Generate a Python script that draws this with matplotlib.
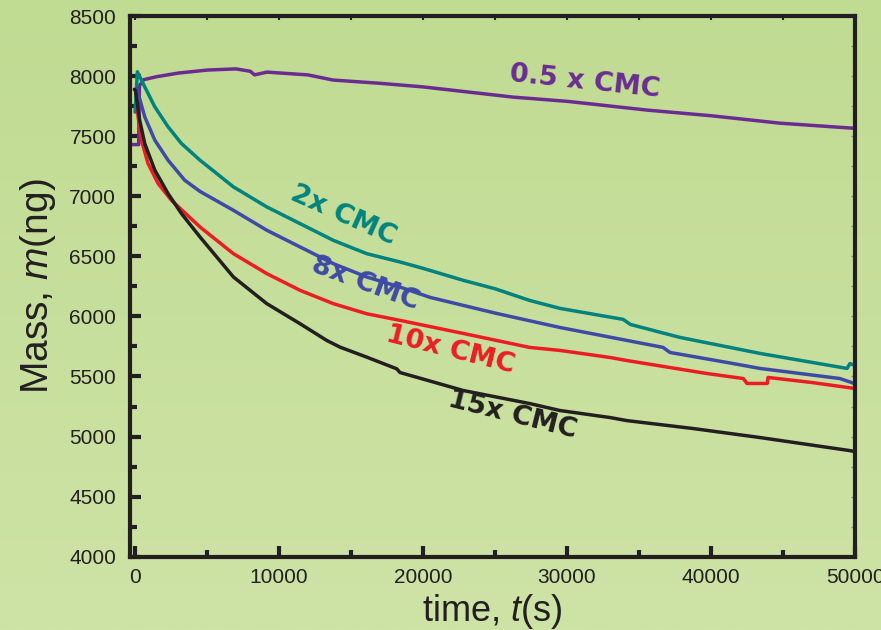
import numpy as np
import matplotlib
matplotlib.use("Agg")
import matplotlib.pyplot as plt
from matplotlib.ticker import MultipleLocator

# ---- data (time in s, mass in ng) ----
t_05x = [-350, 250, 300, 600, 1500, 3000, 5000, 7000, 8000, 8300, 9150, 12000,
         13750, 17000, 20000, 26250, 30000, 35550, 40000, 44800, 50000]
m_05x = [7430, 7430, 7920, 7970, 7995, 8025, 8050, 8060, 8040, 8010, 8033, 8010,
         7967, 7940, 7910, 7825, 7790, 7717, 7670, 7608, 7565]

t_2x = [0, 160, 670, 1370, 2290, 3220, 4510, 6830, 9150, 11460, 13770, 16090,
        18400, 20000, 22800, 25000, 27400, 29500, 33900, 34400, 37850, 43400,
        49450, 49650, 50000]
m_2x = [7700, 8036, 7911, 7744, 7578, 7439, 7300, 7078, 6911, 6772, 6633, 6522,
        6453, 6400, 6300, 6230, 6133, 6067, 5975, 5933, 5825, 5692,
        5567, 5608, 5590]

t_8x = [150, 210, 670, 1370, 2290, 3450, 4510, 6830, 9150, 11460, 13770, 16090,
        18400, 20500, 25100, 29500, 36670, 37150, 41100, 43400, 48950, 50000]
m_8x = [7900, 7858, 7661, 7467, 7300, 7133, 7040, 6883, 6717, 6578, 6439, 6328,
        6244, 6158, 6025, 5908, 5742, 5700, 5617, 5567, 5483, 5440]

t_10x = [100, 210, 440, 900, 1600, 2520, 4510, 6830, 9150, 11460, 13770, 16090,
         18400, 22800, 27400, 29500, 33000, 34150, 39700, 42240, 42500, 43900,
         43960, 47000, 50000]
m_10x = [7800, 7661, 7467, 7272, 7106, 6967, 6744, 6522, 6356, 6217, 6106, 6022,
         5967, 5858, 5742, 5717, 5658, 5633, 5525, 5483, 5442, 5442,
         5492, 5450, 5400]

t_15x = [-50, 20, 320, 670, 1370, 2290, 3220, 4510, 6830, 9150, 11460, 13310,
         14240, 16090, 18170, 18400, 22800, 27400, 29500, 33000, 34150, 38750,
         43400, 49650, 50000]
m_15x = [7890, 7883, 7633, 7439, 7217, 7022, 6856, 6661, 6328, 6106, 5939, 5800,
         5744, 5661, 5564, 5533, 5383, 5275, 5217, 5158, 5133, 5067,
         4992, 4883, 4875]

series = [
    (t_05x, m_05x, '#6a2c91'),
    (t_2x, m_2x, '#00837e'),
    (t_8x, m_8x, '#3f4aa6'),
    (t_10x, m_10x, '#ed1c24'),
    (t_15x, m_15x, '#231f20'),
]

# label text, position (t, m), rotation, colour
labels = [
    ('0.5 x CMC', 31250, 7950, -6, '#6a2c91'),
    ('2x CMC', 14440, 6842, -24, '#00837e'),
    ('8x CMC', 15970, 6275, -20, '#3f4aa6'),
    ('10x CMC', 21875, 5717, -14, '#ed1c24'),
    ('15x CMC', 26180, 5175, -14, '#231f20'),
]

ink = '#231f20'

plt.rcParams['mathtext.fontset'] = 'custom'
plt.rcParams['mathtext.it'] = 'Liberation Sans:italic'
plt.rcParams['mathtext.rm'] = 'Liberation Sans'

fig = plt.figure(figsize=(8.81, 6.30), dpi=100)

# background gradient
bg = fig.add_axes([0, 0, 1, 1], zorder=-10)
grad = np.linspace(0, 1, 256).reshape(-1, 1)
cmap = matplotlib.colors.LinearSegmentedColormap.from_list('bg', ['#c0db92', '#cee3a6'])
bg.imshow(grad, aspect='auto', cmap=cmap, extent=[0, 1, 0, 1], origin='upper')
bg.axis('off')

ax = fig.add_axes([0.1476, 0.1163, 0.9705 - 0.1476, 0.9746 - 0.1163])
ax.set_facecolor('none')

for t, m, c in series:
    ax.plot(t, m, color=c, lw=2.5, solid_joinstyle='round', solid_capstyle='round')

for txt, tx, my, rot, c in labels:
    ax.text(tx, my, txt, color=c, fontsize=19.5, fontweight='bold',
            family='DejaVu Sans', rotation=rot, ha='center', va='center',
            rotation_mode='anchor')

ax.set_xlim(-350, 50000)
ax.set_ylim(4000, 8500)
ax.xaxis.set_major_locator(MultipleLocator(10000))
ax.xaxis.set_minor_locator(MultipleLocator(5000))
ax.yaxis.set_major_locator(MultipleLocator(500))
ax.yaxis.set_minor_locator(MultipleLocator(250))

for s in ax.spines.values():
    s.set_linewidth(3)
    s.set_color(ink)

ax.tick_params(which='major', direction='in', length=8, width=3, color=ink,
               labelsize=15, labelcolor=ink)
ax.tick_params(axis='x', which='major', pad=8)
ax.tick_params(axis='y', which='major', pad=10)
ax.tick_params(which='minor', direction='in', length=5, width=3, color=ink)
for lab in ax.get_xticklabels() + ax.get_yticklabels():
    lab.set_family('Liberation Sans')

# small mirrored ticks on top and right
top = ax.secondary_xaxis('top')
top.xaxis.set_major_locator(MultipleLocator(5000))
top.tick_params(direction='in', length=3, width=1.5, color=ink, labeltop=False)
top.spines['top'].set_visible(False)
right = ax.secondary_yaxis('right')
right.yaxis.set_major_locator(MultipleLocator(250))
right.tick_params(direction='in', length=3, width=1, color='#8a8a70', labelright=False)
right.spines['right'].set_visible(False)

ax.set_xlabel('time, $\\mathit{t}$(s)', fontsize=26, color=ink, family='Liberation Sans',
              labelpad=4)
ax.set_ylabel('Mass, $\\mathit{m}$(ng)', fontsize=28, color=ink, family='Liberation Sans',
              labelpad=8)

fig.savefig('out.png', dpi=100)
